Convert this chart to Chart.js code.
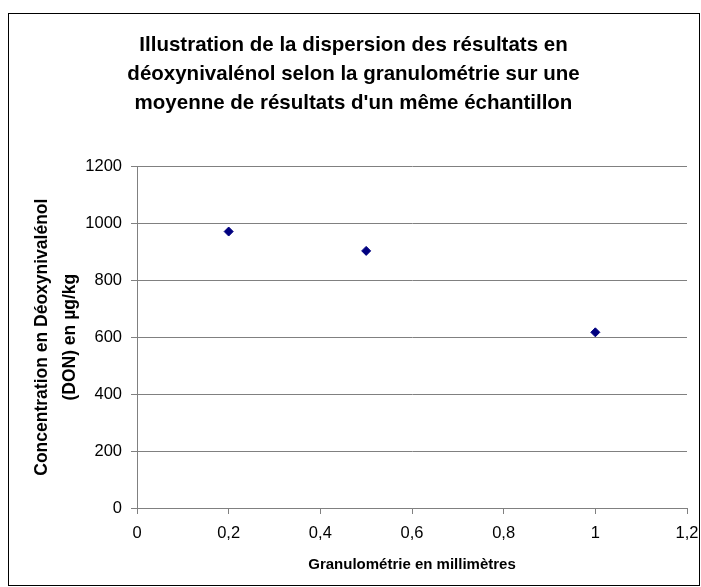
<!DOCTYPE html>
<html>
<head>
<meta charset="utf-8">
<script src="https://cdn.jsdelivr.net/npm/chart.js@4/dist/chart.umd.min.js"></script>
<style>
  html, body { margin: 0; padding: 0; background: #fff; }
  #wrap { position: relative; width: 701px; height: 587px; }
</style>
</head>
<body>
<div id="wrap"><canvas id="chart" width="701" height="587"></canvas></div>
<script>
// granulométrie (mm) et concentration DON (µg/kg)
const granulo = [0.2, 0.5, 1];
const concentration = [971, 903, 617];

const titre = [
    'Illustration de la dispersion des résultats en',
    'déoxynivalénol selon la granulométrie sur une',
    "moyenne de résultats d'un même échantillon"
];
const titreY = ['Concentration en Déoxynivalénol', '(DON) en µg/kg'];
const titreX = 'Granulométrie en millimètres';

const points = granulo.map((g, i) => ({ x: g, y: concentration[i] }));

const gris = '#808080';
Chart.defaults.font.family = '"Liberation Sans", Arial, sans-serif';
Chart.defaults.color = '#000';

// cadre autour du graphique
const cadre = {
    id: 'cadre',
    beforeDraw(chart) {
        const ctx = chart.ctx;
        ctx.save();
        ctx.fillStyle = '#fff';
        ctx.fillRect(0, 0, chart.width, chart.height);
        ctx.strokeStyle = '#000';
        ctx.lineWidth = 1;
        ctx.strokeRect(8.5, 13.5, 691, 572);
        ctx.restore();
    }
};

const virgule = v => (Math.round(v * 10) / 10).toString().replace('.', ',');

new Chart(document.getElementById('chart'), {
    type: 'scatter',
    data: {
        datasets: [{
            data: points,
            backgroundColor: '#000080',
            borderColor: '#000080',
            borderWidth: 1,
            pointStyle: 'rectRot',
            pointRadius: 4.5
        }]
    },
    options: {
        responsive: false,
        animation: false,
        layout: { padding: { left: 20, right: 14, top: 0, bottom: 0 } },
        plugins: {
            legend: { display: false },
            tooltip: { enabled: false },
            title: {
                display: true,
                text: titre,
                color: '#000',
                font: { size: 20.5, weight: 'bold', lineHeight: 1.42 },
                padding: { top: 31, bottom: 48 }
            }
        },
        scales: {
            x: {
                type: 'linear',
                min: 0,
                max: 1.2,
                border: { color: gris, width: 1 },
                grid: { drawOnChartArea: false, drawTicks: true, tickLength: 6, color: gris },
                ticks: { stepSize: 0.2, font: { size: 16.5 }, padding: 10, maxRotation: 0, callback: virgule },
                title: { display: true, text: titreX, font: { size: 15, weight: 'bold' }, padding: { top: 0, bottom: 13 } },
                afterFit(scale) {
                    scale.height = 79;
                    scale.paddingLeft = 0;
                    scale.paddingRight = 0;
                }
            },
            y: {
                min: 0,
                max: 1200,
                border: { color: gris, width: 1 },
                grid: { color: gris, tickLength: 6 },
                ticks: { stepSize: 200, font: { size: 16.5 }, padding: 9, callback: v => String(v) },
                title: { display: true, text: titreY, font: { size: 17.5, weight: 'bold', lineHeight: 1.6 }, padding: { top: 8, bottom: 0 } },
                afterFit(scale) {
                    scale.width = 117;
                    scale.paddingTop = 0;
                    scale.paddingBottom = 0;
                }
            }
        }
    },
    plugins: [cadre]
});
</script>
</body>
</html>
